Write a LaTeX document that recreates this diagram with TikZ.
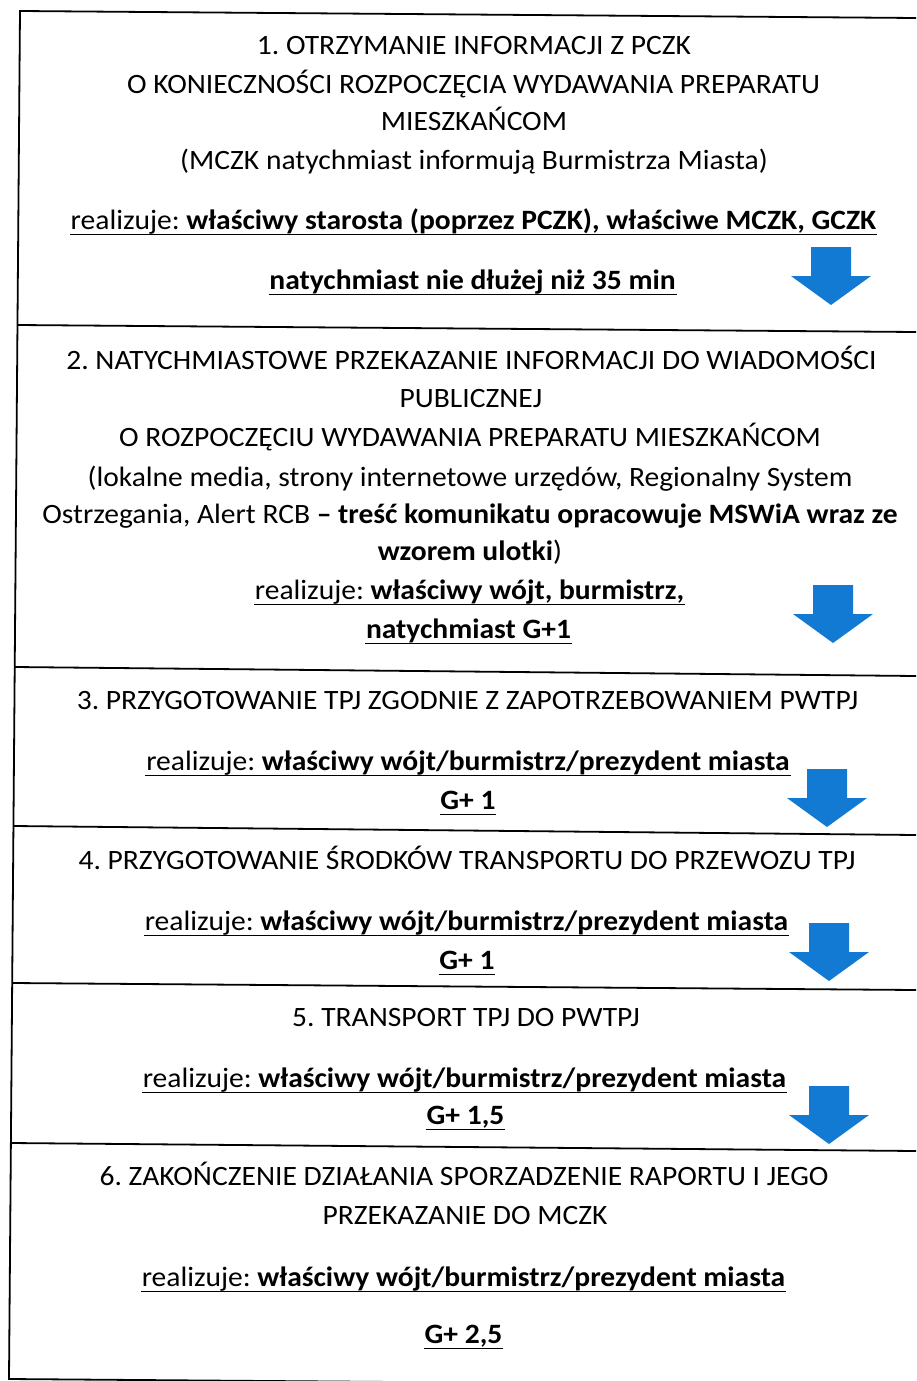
\documentclass[tikz,border=0pt]{standalone}
\usepackage{fontspec}
\setmainfont{Carlito}[FakeStretch=1.055]
\usepackage{tikz}
\definecolor{arrowblue}{RGB}{18,122,210}
\def\strzalka(#1,#2){\fill[arrowblue] (#1-20,#2) -- (#1+20,#2) -- (#1+20,#2+29) -- (#1+40,#2+29) -- (#1,#2+58) -- (#1-40,#2+29) -- (#1-20,#2+29) -- cycle;}
\frenchspacing

\begin{document}
\begin{tikzpicture}[x=1pt, y=-1pt, line width=1.8pt,
		txt/.style={inner sep=0pt, anchor=mid, yshift=-7pt, font=\fontsize{28}{32}\selectfont},
		ul/.style={append after command={([yshift=-5pt]\tikzlastnode.base west) edge[line width=1.6pt] ([yshift=-5pt]\tikzlastnode.base east)}}]
		\useasboundingbox (0,0) rectangle (916,1381);
		\clip (0,0) rectangle (916,1381);
		%%%%% START %%%%%
		
		\draw (916,18) -- (20,11) -- (9,1379) -- (916,1386);
		\draw (17.5,325) -- (916,332);
		\draw (14.7,667) -- (916,676);
		\draw (13.4,826) -- (916,835);
		\draw (12.2,983) -- (916,990);
		\draw (10.9,1143) -- (916,1151);
		
		% 1
		\node[txt] (t1a) at (474,45) {1. OTRZYMANIE INFORMACJI Z PCZK};
		\node[txt] (t1b) at (473.5,84) {O KONIECZNOŚCI ROZPOCZĘCIA WYDAWANIA PREPARATU};
		\node[txt] (t1c) at (474,121) {MIESZKAŃCOM};
		\node[txt] (t1d) at (474,160) {(MCZK natychmiast informują Burmistrza Miasta)};
		\node[txt, ul] (t1e) at (473.5,220) {realizuje: \textbf{właściwy starosta (poprzez PCZK), właściwe MCZK, GCZK}};
		\node[txt, ul] (t1f) at (472.5,280) {\textbf{natychmiast nie dłużej niż 35 min}};
		\strzalka(831,247)
		
		% 2
		\node[txt] (t2a) at (471.5,360) {2. NATYCHMIASTOWE PRZEKAZANIE INFORMACJI DO WIADOMOŚCI};
		\node[txt] (t2b) at (471,398) {PUBLICZNEJ};
		\node[txt] (t2c) at (470,437) {O ROZPOCZĘCIU WYDAWANIA PREPARATU MIESZKAŃCOM};
		\node[txt] (t2d) at (470,477) {(lokalne media, strony internetowe urzędów, Regionalny System};
		\node[txt] (t2e) at (470,514) {Ostrzegania, Alert RCB \textbf{– treść komunikatu opracowuje MSWiA wraz ze}};
		\node[txt] (t2f) at (470,551) {\textbf{wzorem ulotki})};
		\node[txt, ul] (t2g) at (469.5,590) {realizuje: \textbf{właściwy wójt, burmistrz,}};
		\node[txt, ul] (t2h) at (468.5,629) {\textbf{natychmiast G+1}};
		\strzalka(833,585)
		
		% 3
		\node[txt] (t3a) at (467.5,700) {3. PRZYGOTOWANIE TPJ ZGODNIE Z ZAPOTRZEBOWANIEM PWTPJ};
		\node[txt, ul] (t3b) at (468,761) {realizuje: \textbf{właściwy wójt/burmistrz/prezydent miasta}};
		\node[txt, ul] (t3c) at (468,800) {\textbf{G+ 1}};
		\strzalka(827,769)
		
		% 4
		\node[txt] (t4a) at (467,860) {4. PRZYGOTOWANIE ŚRODKÓW TRANSPORTU DO PRZEWOZU TPJ};
		\node[txt, ul] (t4b) at (466.5,921) {realizuje: \textbf{właściwy wójt/burmistrz/prezydent miasta}};
		\node[txt, ul] (t4c) at (467,960) {\textbf{G+ 1}};
		\strzalka(829,923)
		
		% 5
		\node[txt] (t5a) at (466,1017) {5. TRANSPORT TPJ DO PWTPJ};
		\node[txt, ul] (t5b) at (464.5,1078) {realizuje: \textbf{właściwy wójt/burmistrz/prezydent miasta}};
		\node[txt, ul] (t5c) at (465.5,1115) {\textbf{G+ 1,5}};
		\strzalka(829,1086)
		
		% 6
		\node[txt] (t6a) at (464,1176) {6. ZAKOŃCZENIE DZIAŁANIA SPORZADZENIE RAPORTU I JEGO};
		\node[txt] (t6b) at (465,1215) {PRZEKAZANIE DO MCZK};
		\node[txt, ul] (t6c) at (463.5,1277) {realizuje: \textbf{właściwy wójt/burmistrz/prezydent miasta}};
		\node[txt, ul] (t6d) at (463.5,1334) {\textbf{G+ 2,5}};
		
		%%%%% END %%%%%
\end{tikzpicture}
\end{document}
